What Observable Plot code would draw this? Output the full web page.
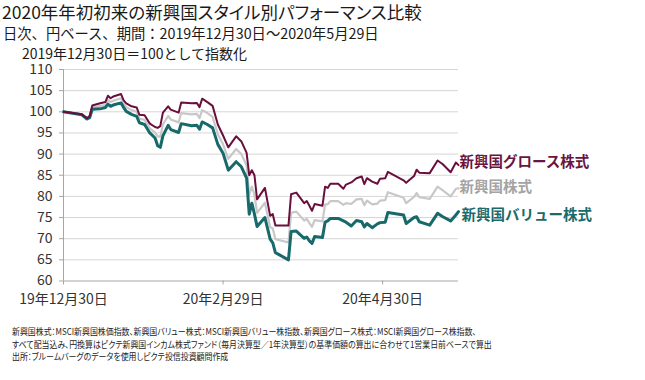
<!DOCTYPE html>
<html><head><meta charset="utf-8">
<script src="https://cdn.jsdelivr.net/npm/d3@7"></script>
<script src="https://cdn.jsdelivr.net/npm/@observablehq/plot@0.6"></script>
<style>
body{margin:0;background:#fff;font-family:"Noto Sans CJK JP","Noto Sans",sans-serif;}
#wrap{position:relative;width:645px;height:380px;overflow:hidden;background:#fff;}
#wrap svg{position:absolute;left:0;top:0;}
.t{position:absolute;white-space:nowrap;color:#1a1a1a;line-height:1;z-index:2;}
#title{left:2px;top:3px;font-size:17.5px;font-feature-settings:"palt";}
#subtitle{left:3px;top:25.5px;font-size:14.3px;}
#ylab{left:22px;top:46px;font-size:14px;}
#foot{left:12px;top:326px;font-size:9px;line-height:12.5px;color:#222;transform:scaleX(0.88);transform-origin:0 0;font-feature-settings:"palt";}
</style></head>
<body>
<div id="wrap">
<div class="t" id="title">2020年年初初来の新興国スタイル別パフォーマンス比較</div>
<div class="t" id="subtitle">日次、円ベース、期間：2019年12月30日～2020年5月29日</div>
<div class="t" id="ylab">2019年12月30日＝100として指数化</div>
<div class="t" id="foot">新興国株式：MSCI新興国株価指数、新興国バリュー株式：MSCI新興国バリュー株指数、新興国グロース株式：MSCI新興国グロース株指数、<br>すべて配当込み、円換算はピクテ新興国インカム株式ファンド（毎月決算型／1年決算型）の基準価額の算出に合わせて1営業日前ベースで算出<br>出所：ブルームバーグのデータを使用しピクテ投信投資顧問作成</div>
</div>
<script>
const dates = ["2019-12-30","2020-01-06","2020-01-08","2020-01-09","2020-01-10","2020-01-13","2020-01-15","2020-01-16","2020-01-17","2020-01-18",
"2020-01-21","2020-01-22","2020-01-23","2020-01-25","2020-01-27","2020-01-28","2020-01-30","2020-02-01","2020-02-03","2020-02-04",
"2020-02-05","2020-02-06","2020-02-08","2020-02-09","2020-02-12","2020-02-13","2020-02-17","2020-02-19","2020-02-20","2020-02-21",
"2020-02-23","2020-02-25","2020-02-27","2020-02-29","2020-03-02","2020-03-05","2020-03-07","2020-03-09","2020-03-10","2020-03-11",
"2020-03-12","2020-03-13","2020-03-16","2020-03-18","2020-03-19","2020-03-20","2020-03-25","2020-03-26","2020-03-28","2020-03-31",
"2020-04-01","2020-04-02","2020-04-03","2020-04-04","2020-04-07","2020-04-08","2020-04-09","2020-04-10","2020-04-13","2020-04-15",
"2020-04-16","2020-04-18","2020-04-20","2020-04-22","2020-04-23","2020-04-24","2020-04-26","2020-04-28","2020-04-29","2020-05-01",
"2020-05-02","2020-05-08","2020-05-09","2020-05-12","2020-05-13","2020-05-14","2020-05-18","2020-05-21","2020-05-23","2020-05-26",
"2020-05-28","2020-05-29"];
const growth = [100.0,99.4,98.5,99.0,101.5,102.0,102.3,103.8,103.2,103.6,
104.2,102.7,102.0,101.3,101.0,99.3,99.2,97.2,96.4,96.2,
96.6,99.8,101.3,100.5,99.8,102.2,102.0,102.1,101.1,103.1,
102.3,101.4,97.0,94.4,91.6,94.2,93.0,90.3,85.0,86.2,
85.0,79.3,82.0,75.4,75.8,73.1,73.1,80.5,80.9,78.4,
78.9,77.8,76.6,78.2,77.8,82.3,82.0,83.0,83.0,81.8,
82.8,83.3,84.3,84.7,82.9,84.3,83.5,83.0,84.2,84.3,
85.8,83.8,83.2,84.8,86.3,85.6,85.5,88.5,87.6,85.7,
88.0,87.4];
const overall = [100.0,99.4,98.4,98.8,101.0,101.4,101.6,102.8,102.3,102.6,
103.2,101.9,101.1,100.4,100.0,98.4,98.1,96.1,95.1,94.2,
94.1,97.0,99.0,98.2,97.5,99.7,99.4,99.5,98.5,100.4,
99.7,98.8,94.7,92.3,88.9,91.2,90.0,87.3,80.4,82.3,
80.4,76.1,78.5,72.7,72.4,69.9,69.1,76.1,76.4,74.3,
74.7,73.7,72.8,74.4,74.1,78.1,78.1,78.9,78.9,78.0,
78.4,78.2,79.3,79.4,77.9,79.0,78.1,78.3,79.0,79.1,
81.0,79.7,78.4,79.9,80.8,79.8,79.4,82.3,81.4,80.0,
81.8,81.9];
const value = [100.0,99.3,98.3,98.6,100.6,100.7,101.0,101.8,101.3,101.6,
102.1,101.0,100.1,99.4,98.9,97.4,97.0,95.0,93.8,92.0,
91.6,94.3,96.8,95.8,95.1,97.2,96.7,96.8,95.9,97.6,
97.0,96.2,92.3,90.2,86.2,88.2,87.0,84.3,75.8,78.4,
75.8,72.9,75.0,69.9,69.0,66.7,65.0,71.7,71.8,70.1,
70.4,69.5,68.9,70.5,70.3,73.9,74.2,74.8,74.8,74.2,
73.9,73.0,74.3,74.0,72.8,73.6,72.6,73.5,73.8,73.9,
76.2,75.6,73.6,75.0,75.2,74.0,73.2,76.0,75.2,74.2,
75.6,76.4];
const seriesNames = ["新興国グロース株式","新興国株式","新興国バリュー株式"];
const yTicks = [60,65,70,75,80,85,90,95,100,105,110];
const xTickDates = ["2019-12-30","2020-02-29","2020-04-30"];
const xTickLabels = ["19年12月30日","20年2月29日","20年4月30日"];

const rows = dates.map((d,i)=>({date:new Date(d), growth:growth[i], overall:overall[i], value:value[i]}));
const last = [rows[rows.length-1]];
const axisColor = "#a6a6a6";
const font = "'Noto Sans CJK JP', sans-serif";

const chart = Plot.plot({
  width: 645, height: 380,
  marginTop: 69, marginBottom: 99.5, marginLeft: 63, marginRight: 187,
  style: {fontFamily: font, background: "white", color: "#333"},
  x: {type: "utc", domain: [new Date(dates[0]), new Date(dates[dates.length-1])]},
  y: {domain: [60, 110]},
  marks: [
    Plot.gridY(yTicks.filter(v => v > 60), {stroke: "#d6d6d6", strokeOpacity: 1}),
    Plot.ruleY([60], {stroke: axisColor}),
    Plot.ruleX([new Date(dates[0])], {stroke: axisColor}),
    Plot.lineY(rows, {x: "date", y: "overall", stroke: "#c8c8c8", strokeWidth: 2.2}),
    Plot.lineY(rows, {x: "date", y: "value", stroke: "#17696a", strokeWidth: 3}),
    Plot.lineY(rows, {x: "date", y: "growth", stroke: "#6a0f3d", strokeWidth: 2}),
    Plot.axisY(yTicks, {tickSize: 4, tickPadding: 7, fontSize: 14, stroke: axisColor, fill: "#333", label: null}),
    Plot.axisX(xTickDates.map(d => new Date(d)), {tickSize: 4, tickPadding: 9, fontSize: 14, stroke: axisColor, fill: "#333", label: null,
      tickFormat: d => xTickLabels[xTickDates.indexOf(d.toISOString().slice(0,10))]}),
    Plot.text(last, {x: "date", y: "growth", text: () => seriesNames[0], dx: 1, dy: -3, textAnchor: "start", fill: "#6a1442", fontSize: 14.5, fontWeight: "bold"}),
    Plot.text(last, {x: "date", y: "overall", text: () => seriesNames[1], dx: 1, dy: -1, textAnchor: "start", fill: "#a3a3a3", fontSize: 14.5, fontWeight: "bold"}),
    Plot.text(last, {x: "date", y: "value", text: () => seriesNames[2], dx: 3, dy: 4, textAnchor: "start", fill: "#1a6a6b", fontSize: 14.5, fontWeight: "bold"})
  ]
});
document.getElementById("wrap").prepend(chart);
</script>
</body></html>
